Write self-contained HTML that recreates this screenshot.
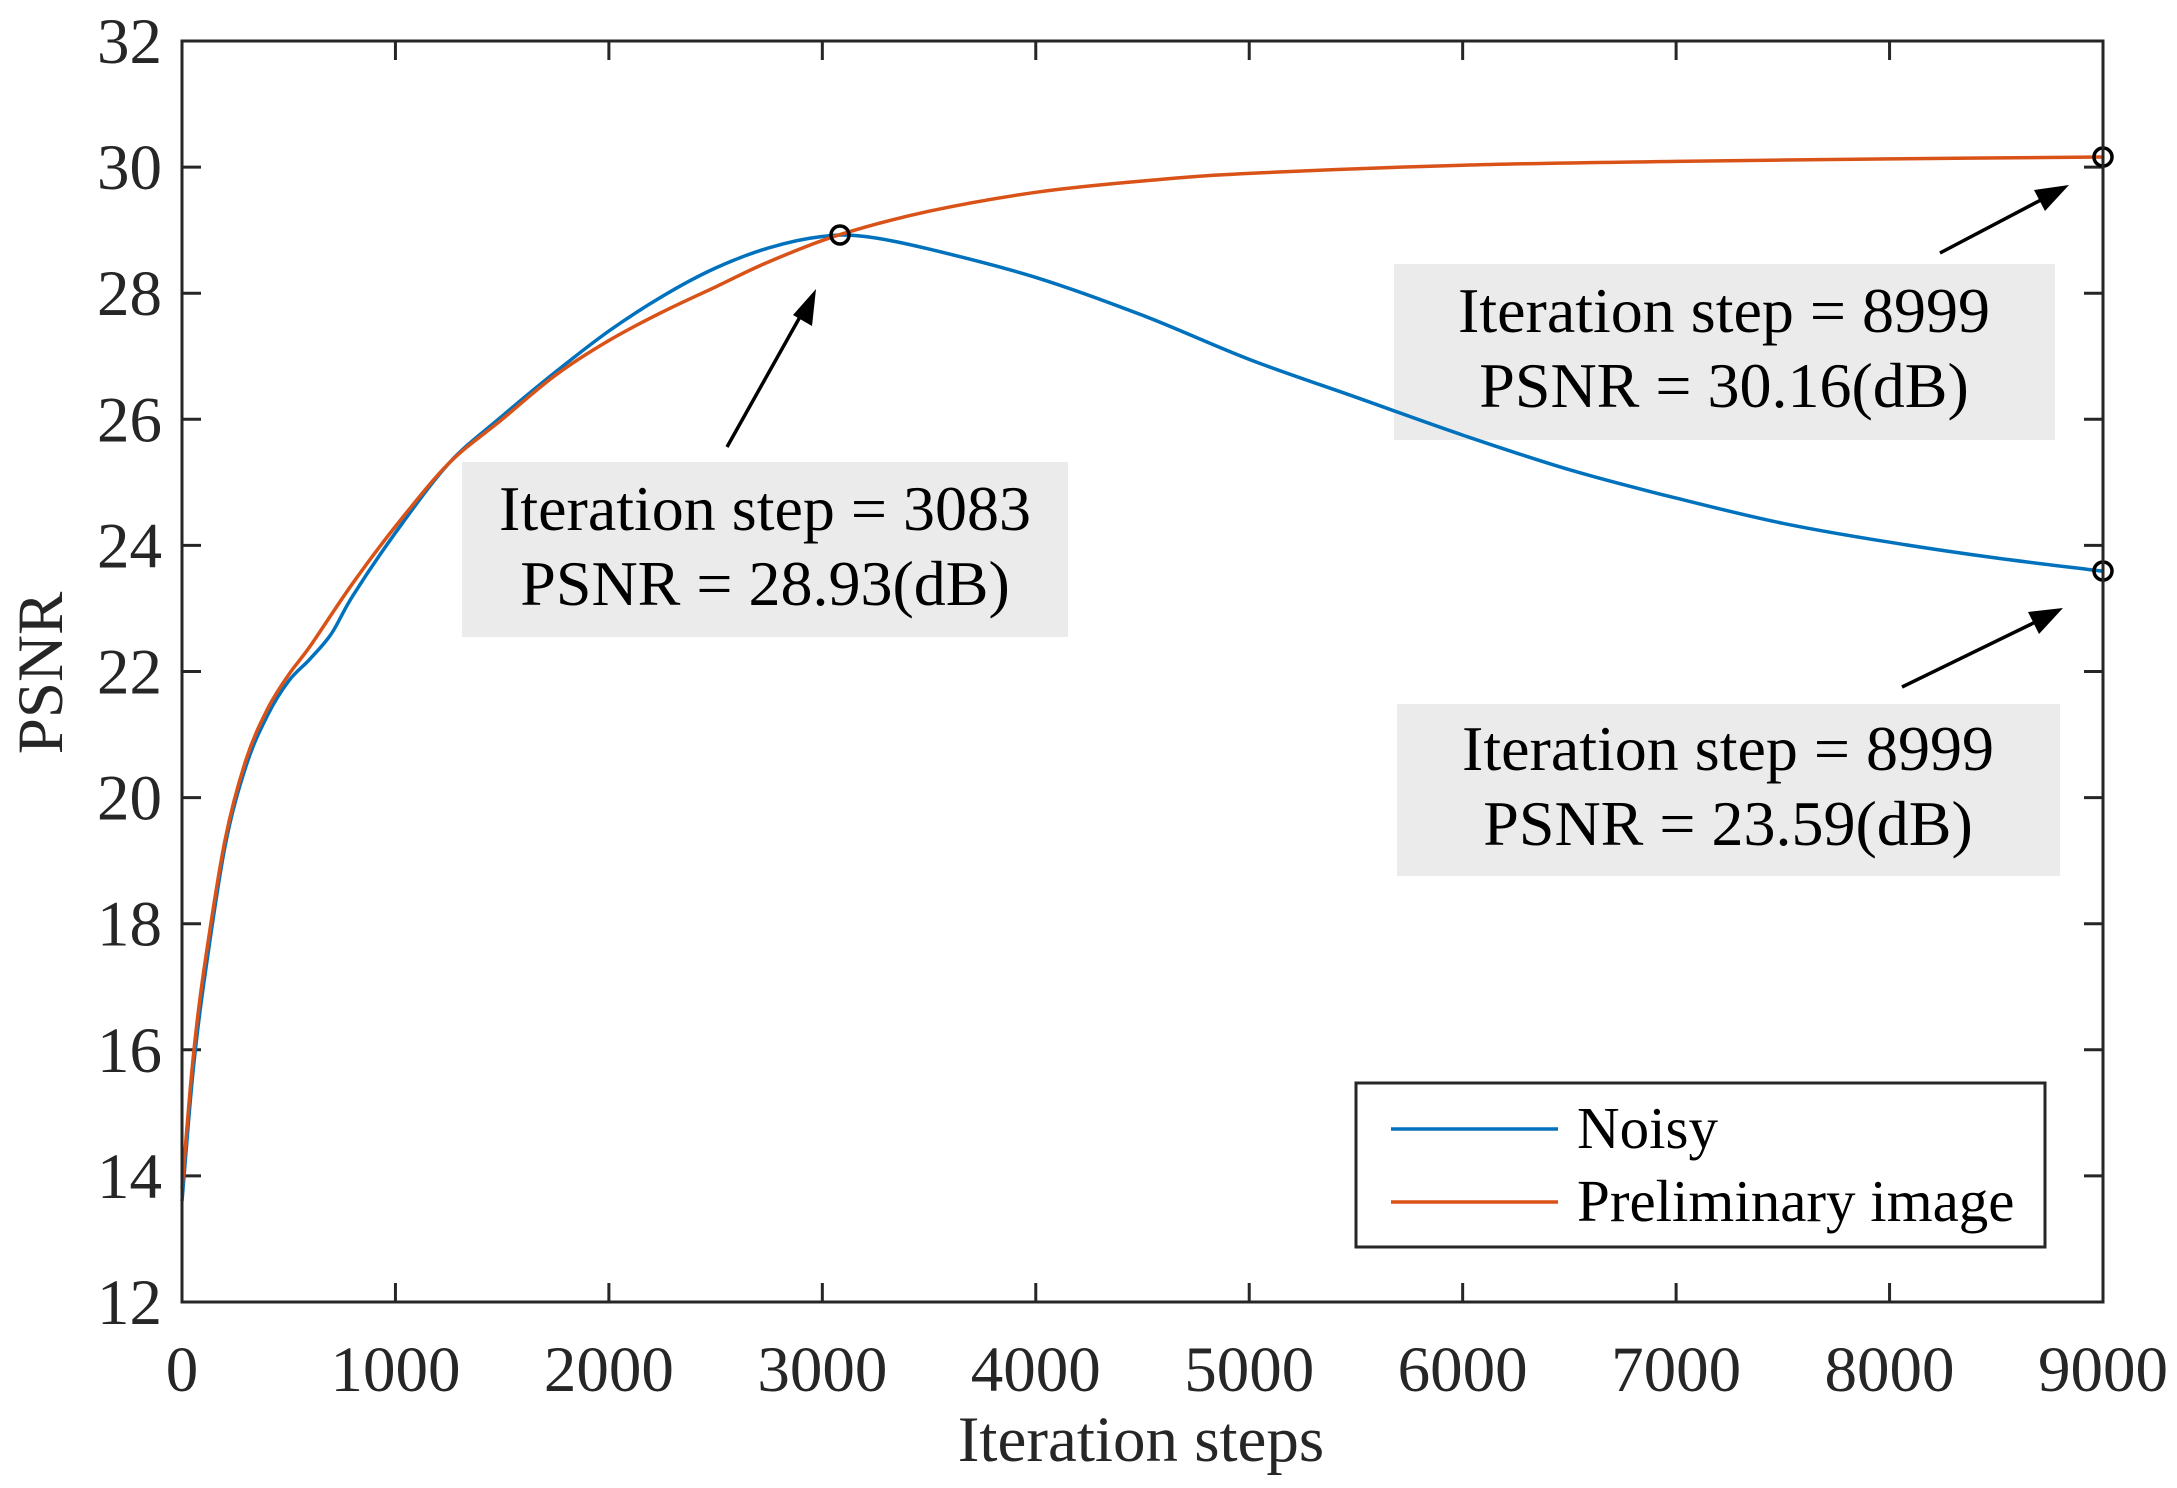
<!DOCTYPE html>
<html><head><meta charset="utf-8"><style>
body{margin:0;background:#fff}
svg{display:block;font-family:"Liberation Serif",serif;fill:#262626}
</style></head><body>
<svg id="s" width="2177" height="1488" viewBox="0 0 2177 1488" xmlns="http://www.w3.org/2000/svg">
<rect width="2177" height="1488" fill="#fff"/>
<g id="ticks" stroke="#262626" stroke-width="3"></g>
<g id="lbl" font-size="65" fill="#262626"></g>
<rect x="462" y="462" width="606" height="175" fill="#ebebeb"/>
<rect x="1394" y="264" width="661" height="176" fill="#ebebeb"/>
<rect x="1397" y="704" width="663" height="172" fill="#ebebeb"/>
<g font-size="64" text-anchor="middle" fill="#000">
<text x="765" y="530">Iteration step = 3083</text>
<text x="765" y="605">PSNR = 28.93(dB)</text>
<text x="1724" y="332">Iteration step = 8999</text>
<text x="1724" y="407">PSNR = 30.16(dB)</text>
<text x="1728" y="770">Iteration step = 8999</text>
<text x="1728" y="845">PSNR = 23.59(dB)</text>
</g>
<path id="blue" fill="none" stroke="#0072bd" stroke-width="3.5"/>
<path id="orange" fill="none" stroke="#d95319" stroke-width="3.5"/>
<g fill="none" stroke="#000" stroke-width="3.5">
<circle cx="840" cy="235" r="9"/><circle cx="2103" cy="157" r="9"/><circle cx="2103" cy="571" r="9"/>
<line x1="727" y1="447" x2="810" y2="299"/>
<line x1="1940" y1="253" x2="2058" y2="191"/>
<line x1="1902" y1="687" x2="2052" y2="614"/>
</g>
<g fill="#000">
<polygon points="816,289 793,315 812,326"/>
<polygon points="2069,185 2034,190 2045,211"/>
<polygon points="2063,608 2028,612 2039,634"/>
</g>
<rect x="182" y="41" width="1921" height="1261" fill="none" stroke="#262626" stroke-width="3"/>
<rect x="1356" y="1083" width="689" height="164" fill="#fff" stroke="#262626" stroke-width="3"/>
<line x1="1391" y1="1129" x2="1558" y2="1129" stroke="#0072bd" stroke-width="3.5"/>
<line x1="1391" y1="1202" x2="1558" y2="1202" stroke="#d95319" stroke-width="3.5"/>
<g font-size="59" fill="#000"><text x="1577" y="1148">Noisy</text><text x="1577" y="1221">Preliminary image</text></g>
<text x="1141" y="1461" font-size="65" text-anchor="middle">Iteration steps</text>
<text transform="translate(62,673) rotate(-90)" font-size="65" text-anchor="middle">PSNR</text>
</svg>
<script>
const X=s=>182+s*1921/9000, Y=p=>1302-(p-12)*63.05;
const ns="http://www.w3.org/2000/svg";
const tk=document.getElementById('ticks'), lb=document.getElementById('lbl');
function ln(a,b,c,d){const l=document.createElementNS(ns,'line');l.setAttribute('x1',a);l.setAttribute('y1',b);l.setAttribute('x2',c);l.setAttribute('y2',d);tk.appendChild(l);}
function tx(x,y,t,anc){const e=document.createElementNS(ns,'text');e.setAttribute('x',x);e.setAttribute('y',y);e.setAttribute('text-anchor',anc);e.textContent=t;lb.appendChild(e);}
for(let s=0;s<=9000;s+=1000){const x=X(s);ln(x,1302,x,1283);ln(x,41,x,60);tx(x,1391,s,'middle');}
for(let p=12;p<=32;p+=2){const y=Y(p);ln(182,y,201,y);ln(2103,y,2084,y);tx(162,y+22,p,'end');}
function spline(pts){const P=pts.map(([s,p])=>[X(s),Y(p)]);let d='M'+P[0][0].toFixed(1)+','+P[0][1].toFixed(1);
for(let i=0;i<P.length-1;i++){const p0=P[Math.max(0,i-1)],p1=P[i],p2=P[i+1],p3=P[Math.min(P.length-1,i+2)];
const c1=[p1[0]+(p2[0]-p0[0])/6,p1[1]+(p2[1]-p0[1])/6],c2=[p2[0]-(p3[0]-p1[0])/6,p2[1]-(p3[1]-p1[1])/6];
d+=` C${c1[0].toFixed(1)},${c1[1].toFixed(1)} ${c2[0].toFixed(1)},${c2[1].toFixed(1)} ${p2[0].toFixed(1)},${p2[1].toFixed(1)}`;}return d;}
const O=[[0,13.8],[50,15.8],[100,17.2],[200,19.3],[300,20.6],[400,21.4],[500,21.95],[600,22.4],[800,23.4],[1000,24.3],[1250,25.3],[1500,26.0],[1750,26.7],[2000,27.25],[2250,27.7],[2500,28.1],[2750,28.5],[3083,28.93],[3500,29.3],[4000,29.6],[4500,29.78],[5000,29.9],[6000,30.03],[7000,30.09],[8000,30.13],[9000,30.16]];
const B=[[0,13.6],[50,15.6],[100,17.0],[200,19.2],[300,20.5],[400,21.3],[500,21.85],[600,22.2],[700,22.6],[800,23.2],[1000,24.2],[1250,25.3],[1500,26.05],[1750,26.75],[2000,27.4],[2250,27.95],[2500,28.4],[2750,28.72],[3000,28.9],[3200,28.9],[3500,28.7],[4000,28.25],[4500,27.65],[5000,26.95],[5500,26.35],[6000,25.75],[6500,25.2],[7000,24.75],[7500,24.35],[8000,24.05],[8500,23.8],[9000,23.59]];
document.getElementById('blue').setAttribute('d',spline(B));
document.getElementById('orange').setAttribute('d',spline(O));
</script>
</body></html>
